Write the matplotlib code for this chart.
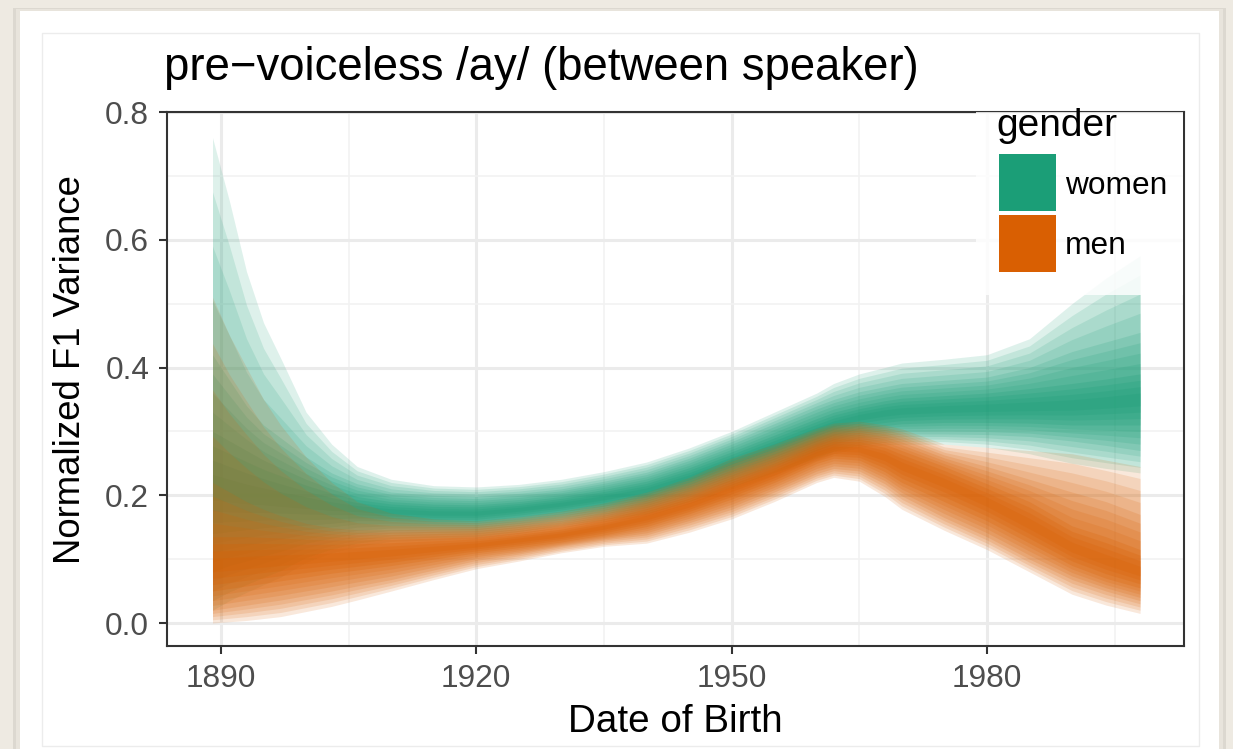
import matplotlib
matplotlib.use("Agg")
import matplotlib.pyplot as plt
from matplotlib.patches import Rectangle
import numpy as np

# ---------------- data ----------------
years = [1889, 1891, 1893, 1895, 1897, 1900, 1903, 1906, 1910, 1915, 1920,
         1925, 1930, 1935, 1940, 1945, 1950, 1955, 1960, 1962, 1965, 1968, 1970,
         1975, 1980, 1985, 1990, 1994, 1998]

# women: posterior quantiles
women_q025 = [0.02, 0.035, 0.048, 0.06, 0.072, 0.095, 0.11, 0.12, 0.128, 0.13, 0.132,
              0.14, 0.15, 0.159, 0.168, 0.187, 0.21, 0.232, 0.255, 0.265, 0.275, 0.279,
              0.28, 0.28, 0.275, 0.265, 0.25, 0.242, 0.235]
women_q10 = [0.08, 0.09, 0.097, 0.105, 0.112, 0.125, 0.133, 0.14, 0.145, 0.146, 0.146,
             0.153, 0.162, 0.171, 0.181, 0.2, 0.223, 0.246, 0.27, 0.28, 0.29, 0.294,
             0.296, 0.296, 0.295, 0.292, 0.285, 0.278, 0.27]
women_q25 = [0.14, 0.143, 0.146, 0.149, 0.151, 0.153, 0.156, 0.16, 0.16, 0.159, 0.159,
             0.166, 0.174, 0.183, 0.194, 0.213, 0.237, 0.26, 0.284, 0.294, 0.304, 0.309,
             0.312, 0.314, 0.314, 0.313, 0.31, 0.31, 0.31]
women_q50 = [0.21, 0.205, 0.20, 0.197, 0.193, 0.188, 0.183, 0.179, 0.175, 0.172, 0.172,
             0.178, 0.186, 0.196, 0.208, 0.228, 0.252, 0.277, 0.302, 0.312, 0.322, 0.329,
             0.332, 0.335, 0.337, 0.339, 0.341, 0.345, 0.35]
women_q75 = [0.30, 0.285, 0.27, 0.255, 0.243, 0.225, 0.21, 0.198, 0.19, 0.186, 0.185,
             0.19, 0.198, 0.209, 0.222, 0.243, 0.268, 0.294, 0.32, 0.33, 0.34, 0.348,
             0.352, 0.356, 0.36, 0.367, 0.375, 0.382, 0.39]
women_q90 = [0.42, 0.38, 0.34, 0.31, 0.29, 0.26, 0.235, 0.218, 0.205, 0.20, 0.198,
             0.203, 0.21, 0.222, 0.236, 0.258, 0.284, 0.312, 0.34, 0.35, 0.362, 0.37,
             0.375, 0.38, 0.385, 0.40, 0.425, 0.44, 0.455]
women_q975 = [0.76, 0.66, 0.55, 0.47, 0.415, 0.33, 0.28, 0.245, 0.225, 0.215, 0.213,
              0.217, 0.225, 0.237, 0.252, 0.274, 0.30, 0.33, 0.36, 0.375, 0.39, 0.40,
              0.407, 0.413, 0.42, 0.445, 0.50, 0.54, 0.575]

# men: posterior quantiles
men_q025 = [0.0, 0.002, 0.004, 0.007, 0.01, 0.018, 0.026, 0.036, 0.05, 0.068, 0.085,
            0.097, 0.11, 0.12, 0.125, 0.142, 0.163, 0.19, 0.22, 0.228, 0.222, 0.198,
            0.178, 0.145, 0.115, 0.08, 0.045, 0.028, 0.015]
men_q10 = [0.02, 0.024, 0.028, 0.032, 0.036, 0.043, 0.05, 0.058, 0.068, 0.083, 0.098,
           0.108, 0.12, 0.13, 0.138, 0.157, 0.178, 0.205, 0.234, 0.242, 0.238, 0.218,
           0.199, 0.165, 0.135, 0.10, 0.068, 0.05, 0.035]
men_q25 = [0.05, 0.054, 0.058, 0.062, 0.066, 0.072, 0.078, 0.083, 0.09, 0.10, 0.11,
           0.118, 0.127, 0.138, 0.151, 0.171, 0.194, 0.22, 0.25, 0.258, 0.255, 0.237,
           0.22, 0.19, 0.16, 0.125, 0.09, 0.07, 0.055]
men_q50 = [0.09, 0.092, 0.094, 0.096, 0.098, 0.10, 0.103, 0.106, 0.11, 0.116, 0.122,
           0.13, 0.138, 0.15, 0.165, 0.185, 0.21, 0.235, 0.265, 0.273, 0.272, 0.26,
           0.246, 0.22, 0.19, 0.155, 0.118, 0.098, 0.08]
men_q75 = [0.135, 0.135, 0.135, 0.134, 0.133, 0.131, 0.13, 0.13, 0.131, 0.133, 0.135,
           0.142, 0.15, 0.163, 0.179, 0.199, 0.225, 0.25, 0.28, 0.288, 0.288, 0.28,
           0.27, 0.245, 0.218, 0.19, 0.152, 0.135, 0.115]
men_q90 = [0.22, 0.205, 0.19, 0.178, 0.168, 0.156, 0.149, 0.146, 0.146, 0.147, 0.148,
           0.154, 0.161, 0.174, 0.192, 0.213, 0.24, 0.265, 0.292, 0.30, 0.302, 0.296,
           0.288, 0.263, 0.245, 0.225, 0.205, 0.19, 0.17]
men_q975 = [0.51, 0.45, 0.40, 0.35, 0.31, 0.26, 0.22, 0.19, 0.172, 0.163, 0.16,
            0.166, 0.175, 0.188, 0.205, 0.228, 0.258, 0.28, 0.305, 0.313, 0.316, 0.31,
            0.304, 0.28, 0.275, 0.27, 0.265, 0.255, 0.245]

groups = ["women", "men"]
group_colors = ["#1B9E77", "#D95F02"]

xticks = [1890, 1920, 1950, 1980]
xticks_minor = [1905, 1935, 1965, 1995]
yticks = [0.0, 0.2, 0.4, 0.6, 0.8]
ytick_labels = ["0.0", "0.2", "0.4", "0.6", "0.8"]
yticks_minor = [0.1, 0.3, 0.5, 0.7]

title = "pre\u2212voiceless /ay/ (between speaker)"
xlabel = "Date of Birth"
ylabel = "Normalized F1 Variance"
legend_title = "gender"

# ---------------- figure ----------------
plt.rcParams['font.family'] = ['Liberation Sans', 'DejaVu Sans']

W, H = 1233, 749
fig = plt.figure(figsize=(W / 100, H / 100), dpi=100)
fig.patch.set_facecolor('#eeeae2')


def fx(px):
    return px / W


def fy(py):
    return 1 - py / H


def rect_px(x0, y0, x1, y1, **kw):
    r = Rectangle((fx(x0), fy(y1)), fx(x1) - fx(x0), fy(y0) - fy(y1),
                  transform=fig.transFigure, **kw)
    fig.add_artist(r)
    return r


# card with a soft shadow
rect_px(13, 8, 1226, 760, facecolor='#dcd8d0', edgecolor='none', zorder=-5)
rect_px(16, 9, 1223, 760, facecolor='#e8e4dc', edgecolor='none', zorder=-4)
rect_px(20, 11, 1219, 760, facecolor='white', edgecolor='none', zorder=-3)
rect_px(42, 33, 1199, 746, facecolor='white', edgecolor='#ececec', lw=1.0, zorder=-2)

ax = fig.add_axes([fx(167), fy(646), fx(1184) - fx(167), fy(112) - fy(646)])
ax.set_facecolor('white')

xmin = 1890 + (167 - 221) / 8.51
xmax = 1890 + (1184 - 221) / 8.51
ax.set_xlim(xmin, xmax)
ax.set_ylim(-0.036, 0.8)


# fan: nested translucent layers stepping from the outer quantiles to the median
def draw_fan(lower_stack, upper_stack, color, steps=4, seg_alphas=(0.14, 0.16, 0.22)):
    lo = [np.asarray(a, float) for a in lower_stack]
    hi = [np.asarray(a, float) for a in upper_stack]
    for seg in range(len(lo) - 1):
        for k in range(steps):
            f = k / steps
            lcurve = lo[seg] * (1 - f) + lo[seg + 1] * f
            hcurve = hi[seg] * (1 - f) + hi[seg + 1] * f
            ax.fill_between(years, lcurve, hcurve, color=color,
                            alpha=seg_alphas[seg], lw=0, zorder=2)


draw_fan([women_q025, women_q10, women_q25, women_q50],
         [women_q975, women_q90, women_q75, women_q50], group_colors[0])
draw_fan([men_q025, men_q10, men_q25, men_q50],
         [men_q975, men_q90, men_q75, men_q50], group_colors[1])

# grid & ticks
ax.set_xticks(xticks)
ax.set_xticks(xticks_minor, minor=True)
ax.set_yticks(yticks)
ax.set_yticklabels(ytick_labels)
ax.set_yticks(yticks_minor, minor=True)
ax.grid(which='major', color='#ebebeb', lw=2.2, zorder=0)
ax.grid(which='minor', color='#f2f2f2', lw=1.2, zorder=0)
ax.set_axisbelow(True)
ax.tick_params(which='major', length=5.8, width=1.5, color='#333333',
               labelcolor='#4d4d4d', labelsize=22.8, pad=7)
ax.tick_params(which='minor', length=0)
for s in ax.spines.values():
    s.set_color('#333333')
    s.set_linewidth(1.5)

# texts
fig.text(fx(164), fy(80), title, fontsize=32.8, ha='left', va='baseline', color='black')
fig.text(fx(675), fy(732), xlabel, fontsize=27.8, ha='center', va='baseline', color='black')
fig.text(fx(80), fy(370), ylabel, fontsize=26.3, rotation=90, rotation_mode='anchor',
         ha='center', va='baseline', color='black')

# legend (semi-transparent box over the panel corner)
rect_px(976, 112, 1183, 295, facecolor='white', alpha=0.82, edgecolor='none', zorder=5)
fig.text(fx(996), fy(136), legend_title, fontsize=28, ha='left', va='baseline', zorder=6)
key_tops = [154, 215]
label_baselines = [194, 254]
for g, col, kt, lb in zip(groups, group_colors, key_tops, label_baselines):
    rect_px(999, kt, 1056, kt + 57, facecolor=col, edgecolor='none', zorder=6)
    fig.text(fx(1065), fy(lb), g, fontsize=22.8, ha='left', va='baseline', zorder=6)

fig.savefig('out.png', dpi=100, facecolor=fig.get_facecolor())
